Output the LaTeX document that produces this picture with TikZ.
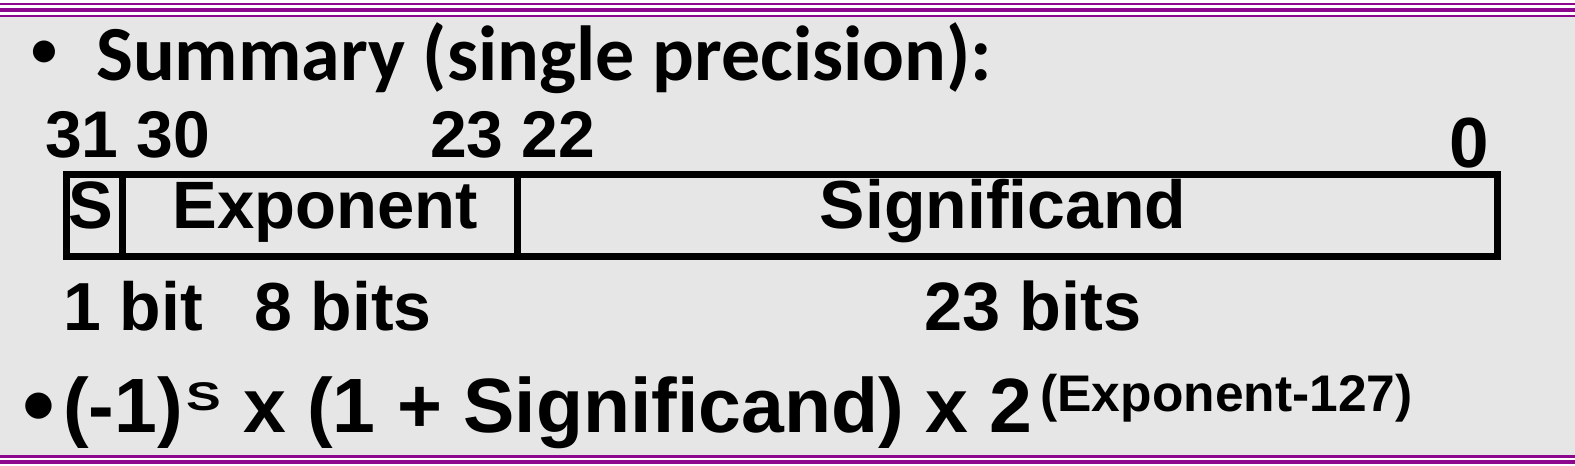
\documentclass[tikz,border=0pt]{standalone}
\usepackage{fontspec}
\setmainfont{Liberation Sans}
\newfontfamily\calfont{Carlito}
\definecolor{bgc}{RGB}{230,230,230}
\definecolor{barc}{RGB}{140,8,140}
\newcommand{\fs}[1]{\fontsize{#1}{#1}\selectfont}
\begin{document}
\begin{tikzpicture}[x=1pt,y=-1pt,
  lbl/.style={inner sep=0pt, anchor=base west, font=\bfseries},
  cell/.style={draw=black, line width=7pt, inner sep=0pt, minimum height=82pt, anchor=north west},
  celltext/.style={inner sep=0pt, anchor=base, font=\bfseries\fs{67}},
  bar/.style={fill=barc, draw=none}]
\useasboundingbox (0,0) rectangle (1575,466);
\fill[bgc] (0,0) rectangle (1575,466);
% top stripes
\fill[white] (0,0) rectangle (1575,17);
\fill[bar] (0,3) rectangle (1575,5);
\fill[bar] (0,8) rectangle (1575,12);
\fill[bar] (0,15) rectangle (1575,17);
% bottom stripes
\fill[white] (0,455) rectangle (1575,466);
\fill[bar] (0,455) rectangle (1575,457.5);
\fill[bar] (0,459.5) rectangle (1575,464);
% title
\node[lbl, font=\calfont\bfseries\fs{52}] (b1) at (31,66) {•};
\node[lbl, font=\calfont\bfseries\fs{78}] (title) at (96,80) {Summary (single precision):};
% bit numbers
\node[lbl, font=\bfseries\fs{66}] (n31) at (45,157) {31 30};
\node[lbl, font=\bfseries\fs{66}] (n23) at (430,157) {23 22};
\node[lbl, font=\bfseries\fs{71}] (n0) at (1449,167) {0};
% cells
\node[cell, minimum width=56pt] (cs) at (63,171) {};
\node[cell, minimum width=395pt] (ce) at (119,171) {};
\node[cell, minimum width=980pt] (cg) at (514,171) {};
\node[celltext] (ts) at (91,228) {S};
\node[celltext] (te) at (325,228) {Exponent};
\node[celltext, font=\bfseries\fs{68}] (tg) at (1003,228) {Significand};
% widths
\node[lbl, font=\bfseries\fs{68}] (w1) at (63,330) {1 bit};
\node[lbl, font=\bfseries\fs{68}] (w8) at (254,330) {8 bits};
\node[lbl, font=\bfseries\fs{68.5}] (w23) at (924,330) {23 bits};
% formula
\node[lbl, font=\calfont\bfseries\fs{62}] (b2) at (23,423) {•};
\node[lbl, font=\bfseries\fs{77}] (formula) at (63,432)
  {(-1)\hspace{4pt}\raisebox{22pt}{\fs{40}\scalebox{1.3}[1]{S}} x (1 + Significand) x 2\hspace{8pt}\raisebox{21pt}{\fs{51.5}(Exponent-127)}};
\end{tikzpicture}
\end{document}
